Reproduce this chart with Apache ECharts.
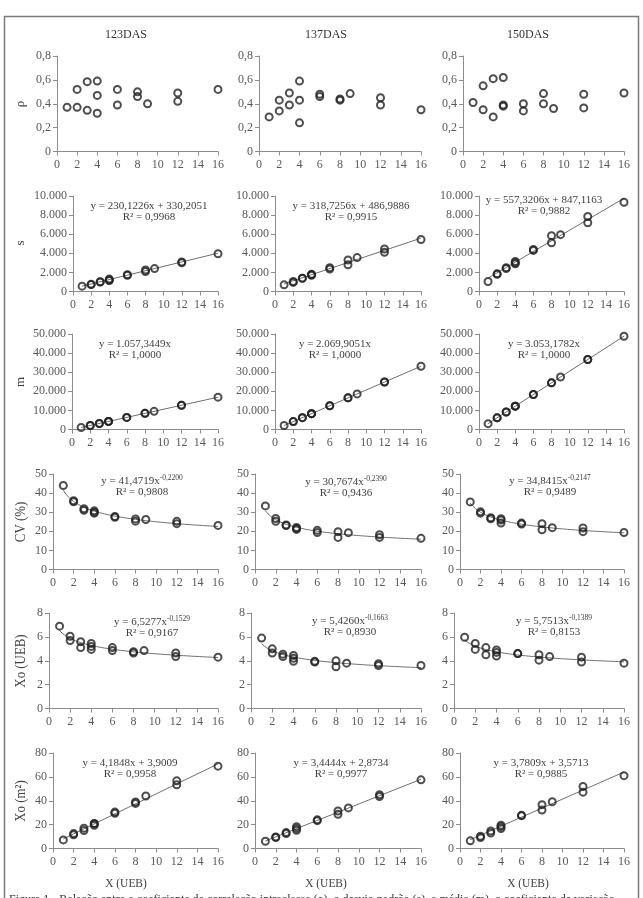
<!DOCTYPE html>
<html>
<head>
<meta charset="utf-8">
<script src="https://cdn.jsdelivr.net/npm/echarts@6/dist/echarts.min.js"></script>
<style>
html, body { margin: 0; padding: 0; background: #fff; }
#chart { width: 643px; height: 898px; }
</style>
</head>
<body>
<div id="chart"></div>
<script>
// plot size in basic units (UEB), one entry per plot shape
var plotX = [1, 2, 2, 3, 3, 4, 4, 4, 6, 6, 8, 8, 9, 12, 12, 16]
var dasLabels = ['123DAS', '137DAS', '150DAS']

var rho123 = [0.37, 0.52, 0.37, 0.585, 0.345, 0.59, 0.47, 0.32, 0.52, 0.39, 0.50, 0.46, 0.40, 0.49, 0.42, 0.52]
var rho137 = [0.29, 0.43, 0.34, 0.49, 0.39, 0.59, 0.43, 0.24, 0.48, 0.46, 0.44, 0.43, 0.485, 0.45, 0.39, 0.35]
var rho150 = [0.41, 0.55, 0.35, 0.61, 0.29, 0.62, 0.39, 0.38, 0.40, 0.34, 0.485, 0.40, 0.36, 0.48, 0.365, 0.49]

var s123 = [560, 750, 720, 1000, 1020, 1300, 1200, 1150, 1750, 1700, 2250, 2100, 2400, 3100, 3000, 3950]
var s137 = [700, 1050, 950, 1400, 1380, 1800, 1700, 1750, 2500, 2350, 3300, 2800, 3550, 4450, 4100, 5450]
var s150 = [1050, 1850, 1800, 2500, 2400, 3150, 2900, 3000, 4400, 4300, 5850, 5100, 5950, 7850, 7200, 9350]

var m123 = [1060, 2110, 2110, 3170, 3170, 4230, 4230, 4230, 6340, 6340, 8460, 8460, 9520, 12690, 12690, 16920]
var m137 = [2070, 4140, 4140, 6210, 6210, 8280, 8280, 8280, 12420, 12420, 16560, 16560, 18630, 24840, 24840, 33120]
var m150 = [3050, 6110, 6110, 9160, 9160, 12210, 12210, 12210, 18320, 18320, 24430, 24430, 27480, 36640, 36640, 48850]

var cv123 = [44, 36, 35.5, 31.8, 31, 30.7, 29.5, 30, 27.8, 27.3, 26.5, 25.3, 26.2, 25.2, 24, 23.1]
var cv137 = [33.3, 26.7, 25.2, 23.3, 23, 22, 21, 21.5, 20.5, 19.4, 19.8, 16.8, 19.3, 18.2, 16.8, 16.3]
var cv150 = [35.4, 30.2, 29.5, 27.1, 26.6, 26.6, 25.9, 24.3, 24.3, 23.8, 24, 20.8, 21.9, 21.7, 19.8, 19.4]

var xoU123 = [6.9, 6.05, 5.7, 5.6, 5.1, 5.45, 5.2, 4.95, 5.1, 4.85, 4.75, 4.65, 4.85, 4.65, 4.35, 4.3]
var xoU137 = [5.9, 5.0, 4.65, 4.55, 4.35, 4.45, 4.2, 3.95, 3.95, 3.9, 4.0, 3.5, 3.8, 3.75, 3.6, 3.6]
var xoU150 = [5.97, 5.45, 4.95, 5.1, 4.5, 4.9, 4.7, 4.4, 4.6, 4.6, 4.5, 4.05, 4.35, 4.3, 3.9, 3.8]

var xoM123 = [7.2, 12.5, 11.5, 17, 15, 21, 19.5, 20.8, 30.5, 29.5, 39, 37.8, 44, 56.7, 53.3, 69]
var xoM137 = [6.1, 9.7, 9.2, 13.3, 12.5, 18.3, 16.7, 15.3, 24, 23.3, 31.4, 28.6, 34, 45, 43.6, 57.5]
var xoM150 = [6.4, 10.3, 9.2, 14.7, 13, 19.5, 18.3, 16.7, 27.8, 27.5, 36.7, 32.2, 39.2, 52, 47.2, 61]

// fitted equations as printed on the figure
var sCoef = [[230.1226, 330.2051], [318.7256, 486.9886], [557.3206, 847.1163]]
var sR2 = [0.9968, 0.9915, 0.9882]
var mCoef = [[1057.3449, 0], [2069.9051, 0], [3053.1782, 0]]
var mR2 = [1, 1, 1]
var cvCoef = [[41.4719, -0.2200], [30.7674, -0.2390], [34.8415, -0.2147]]
var cvR2 = [0.9808, 0.9436, 0.9489]
var xoUCoef = [[6.5277, -0.1529], [5.4260, -0.1663], [5.7513, -0.1389]]
var xoUR2 = [0.9167, 0.8930, 0.8153]
var xoMCoef = [[4.1848, 3.9009], [3.4444, 2.8734], [3.7809, 3.5713]]
var xoMR2 = [0.9958, 0.9977, 0.9885]

var serif = 'Liberation Serif'

function fmtDec (v) {
  return v === 0 ? '0' : v.toFixed(1).replace('.', ',')
}
function fmtInt (v) {
  return String(v).replace(/\B(?=(\d{3})+(?!\d))/g, '.')
}
function fmtNum (v) {
  var p = Math.abs(v).toFixed(4).split('.')
  return (v < 0 ? '-' : '') + fmtInt(p[0]) + ',' + p[1]
}

var rows = [
  { name: 'ρ', max: 0.8, interval: 0.2, fmt: fmtDec, data: [rho123, rho137, rho150] },
  { name: 's', max: 10000, interval: 2000, fmt: fmtInt, data: [s123, s137, s150], fit: 'lin', coef: sCoef, r2: sR2 },
  { name: 'm', max: 50000, interval: 10000, fmt: fmtInt, data: [m123, m137, m150], fit: 'lin', coef: mCoef, r2: mR2 },
  { name: 'CV (%)', max: 50, interval: 10, fmt: fmtInt, data: [cv123, cv137, cv150], fit: 'pow', coef: cvCoef, r2: cvR2 },
  { name: 'Xo (UEB)', max: 8, interval: 2, fmt: fmtInt, data: [xoU123, xoU137, xoU150], fit: 'pow', coef: xoUCoef, r2: xoUR2 },
  { name: 'Xo (m²)', max: 80, interval: 20, fmt: fmtInt, data: [xoM123, xoM137, xoM150], fit: 'lin', coef: xoMCoef, r2: xoMR2 }
]

// layout
var rowTops = [56, 196, 334, 474, 613, 753]
var plotH = 95.5
var lefts = [[57, 259, 463], [73, 275, 479], [72, 275, 479], [53, 255, 460], [49, 251, 454], [53, 255, 460]]
var rightEdges = [218, 421, 624]
var eqPos = [
  null,
  [[149, 206], [351, 206], [544, 200]],
  [[135, 344], [335, 344], [544, 344]],
  [[142, 481], [346, 482], [550, 481]],
  [[152, 622], [350, 621], [554, 621]],
  [[130, 763], [341, 763], [541, 763]]
]
var titleX = [126, 326, 528]
var nameY = [104, 243, 382, 522, 661, 801]

var grids = []
var xAxes = []
var yAxes = []
var series = []
var graphics = [{
  type: 'rect',
  shape: { x: 4.5, y: 16.5, width: 634, height: 900 },
  style: { fill: null, stroke: '#7a7a7a', lineWidth: 1.5 }
}]

var axisColor = '#8c8c8c'
var labelStyle = { color: '#595959', fontSize: 12, fontFamily: serif }

rows.forEach(function (row, r) {
  graphics.push({
    type: 'text',
    x: 21,
    y: nameY[r],
    rotation: Math.PI / 2,
    scaleX: r < 3 ? 1 : 0.92,
    style: {
      text: row.name,
      textAlign: 'center',
      textVerticalAlign: 'middle',
      font: (r < 3 ? 13 : 14) + 'px "Liberation Serif"',
      fill: '#404040'
    }
  })
  for (var c = 0; c < 3; c++) {
    var i = r * 3 + c
    grids.push({
      left: lefts[r][c],
      top: rowTops[r],
      width: rightEdges[c] - lefts[r][c],
      height: plotH
    })
    xAxes.push({
      type: 'value',
      gridIndex: i,
      min: 0,
      max: 16,
      interval: 2,
      splitLine: { show: false },
      axisLine: { lineStyle: { color: axisColor } },
      axisTick: { show: true, length: 4, lineStyle: { color: axisColor } },
      axisLabel: Object.assign({ margin: 7 }, labelStyle)
    })
    yAxes.push({
      type: 'value',
      gridIndex: i,
      min: 0,
      max: row.max,
      interval: row.interval,
      splitLine: { show: false },
      axisLine: { show: true, lineStyle: { color: axisColor } },
      axisTick: { show: true, length: 4, lineStyle: { color: axisColor } },
      axisLabel: Object.assign({ margin: 6, formatter: row.fmt }, labelStyle)
    })
    var vals = row.data[c]
    series.push({
      type: 'scatter',
      xAxisIndex: i,
      yAxisIndex: i,
      symbol: 'circle',
      symbolSize: 7,
      z: 3,
      itemStyle: { color: 'rgba(0,0,0,0)', borderColor: '#222', borderWidth: 2 },
      data: plotX.map(function (x, k) { return [x, vals[k]] })
    })

    if (!row.fit) continue
    var a = row.coef[c][0]
    var b = row.coef[c][1]
    var pts = []
    var eq
    if (row.fit === 'lin') {
      pts = [[1, a + b], [16, a * 16 + b]]
      eq = '{n|y = ' + fmtNum(a) + 'x' + (b ? ' + ' + fmtNum(b) : '') + '}'
    } else {
      for (var x = 1; x <= 16.001; x += 0.25) pts.push([x, a * Math.pow(x, b)])
      eq = '{n|y = ' + fmtNum(a) + 'x}{s|' + fmtNum(b) + '}'
    }
    series.push({
      type: 'line',
      xAxisIndex: i,
      yAxisIndex: i,
      showSymbol: false,
      silent: true,
      z: 2,
      lineStyle: { color: '#6e6e6e', width: 1 },
      data: pts
    })
    var p = eqPos[r][c]
    graphics.push({
      type: 'text',
      x: p[0],
      y: p[1],
      style: {
        text: eq,
        textAlign: 'center',
        textVerticalAlign: 'middle',
        rich: {
          n: { fontSize: 11, fontFamily: serif, fill: '#404040', lineHeight: 14 },
          s: { fontSize: 7.5, fontFamily: serif, fill: '#404040', verticalAlign: 'top', lineHeight: 8 }
        }
      }
    })
    graphics.push({
      type: 'text',
      x: p[0],
      y: p[1] + 11,
      style: {
        text: 'R² = ' + fmtNum(row.r2[c]),
        textAlign: 'center',
        textVerticalAlign: 'middle',
        font: '11px "Liberation Serif"',
        fill: '#404040'
      }
    })
  }
})

for (var c = 0; c < 3; c++) {
  graphics.push({
    type: 'text',
    x: titleX[c],
    y: 35,
    style: { text: dasLabels[c], textAlign: 'center', textVerticalAlign: 'middle', font: '12px "Liberation Serif"', fill: '#333' }
  })
  graphics.push({
    type: 'text',
    x: titleX[c],
    y: 884,
    scaleX: 0.88,
    style: { text: 'X (UEB)', textAlign: 'center', textVerticalAlign: 'middle', font: '13px "Liberation Serif"', fill: '#404040' }
  })
}

graphics.push({
  type: 'text',
  x: 9,
  y: 894,
  style: {
    text: 'Figura 1 - Relação entre o coeficiente de correlação intraclasse (ρ), o desvio padrão (s), a média (m), o coeficiente de variação',
    textVerticalAlign: 'top',
    font: '12px "Liberation Serif"',
    fill: '#333'
  }
})

var chart = echarts.init(document.getElementById('chart'))
chart.setOption({
  animation: false,
  grid: grids,
  xAxis: xAxes,
  yAxis: yAxes,
  series: series,
  graphic: graphics
})
</script>
</body>
</html>
